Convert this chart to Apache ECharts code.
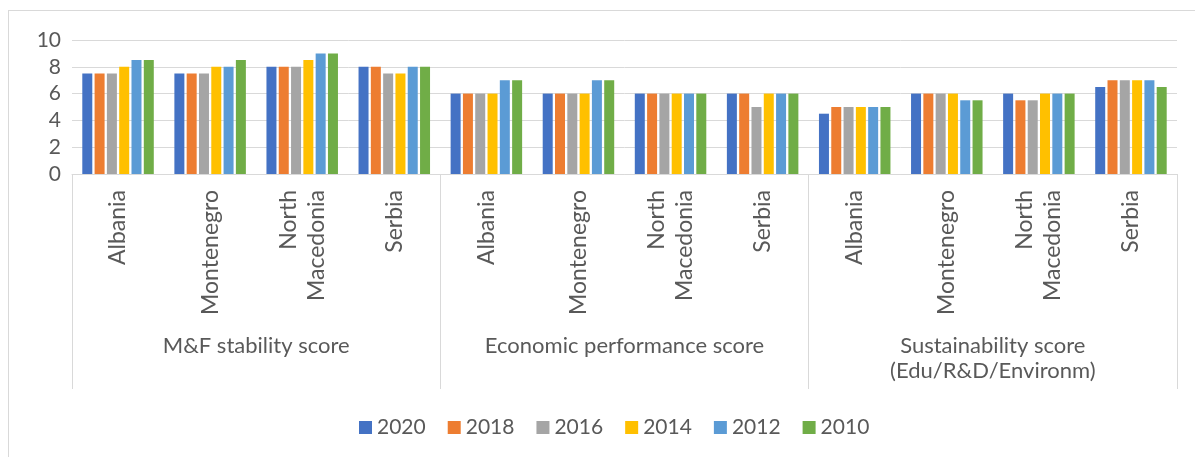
<!DOCTYPE html>
<html>
<head>
<meta charset="utf-8">
<script src="https://cdn.jsdelivr.net/npm/echarts@6/dist/echarts.min.js"></script>
<style>
  html, body { margin: 0; padding: 0; background: #fff; }
  #frame { position: absolute; left: 8px; top: 10px; width: 1200px; height: 460px;
           border-left: 1px solid #d9d9d9; border-top: 1px solid #d9d9d9; }
  #chart { position: absolute; left: 0; top: 0; width: 1195px; height: 457px; }
</style>
</head>
<body>
<div id="frame"></div>
<div id="chart"></div>
<script>
// categories
var countries = ['Albania', 'Montenegro', 'North\nMacedonia', 'Serbia',
                 'Albania', 'Montenegro', 'North\nMacedonia', 'Serbia',
                 'Albania', 'Montenegro', 'North\nMacedonia', 'Serbia'];
var groups = ['M&F stability score', 'Economic performance score', 'Sustainability score\n(Edu/R&D/Environm)'];
var years = ['2020', '2018', '2016', '2014', '2012', '2010'];
var colors = ['#4472c4', '#ed7d31', '#a5a5a5', '#ffc000', '#5b9bd5', '#70ad47'];

// values per year, in category order
var v2020 = [7.5, 7.5, 8, 8,   6, 6, 6, 6,   4.5, 6, 6, 6.5];
var v2018 = [7.5, 7.5, 8, 8,   6, 6, 6, 6,   5, 6, 5.5, 7];
var v2016 = [7.5, 7.5, 8, 7.5, 6, 6, 6, 5,   5, 6, 5.5, 7];
var v2014 = [8, 8, 8.5, 7.5,   6, 6, 6, 6,   5, 6, 6, 7];
var v2012 = [8.5, 8, 9, 8,     7, 7, 6, 6,   5, 5.5, 6, 7];
var v2010 = [8.5, 8.5, 9, 8,   7, 7, 6, 6,   5, 5.5, 6, 6.5];
var values = [v2020, v2018, v2016, v2014, v2012, v2010];

var yTicks = [0, 2, 4, 6, 8, 10];

var font = 'Lato, "Liberation Sans", sans-serif';
var txt = '#595959';
var line = '#d9d9d9';

var chart = echarts.init(document.getElementById('chart'));

var series = years.map(function (y, i) {
  return {
    name: y,
    type: 'bar',
    xAxisIndex: 0,
    data: values[i],
    barWidth: 10,
    barGap: '23%',
    itemStyle: { color: colors[i] }
  };
});

chart.setOption({
  animation: false,
  textStyle: { fontFamily: font },
  grid: { left: 72, right: 18, top: 40, bottom: 283 },
  legend: {
    data: years,
    top: 412,
    left: 354,
    icon: 'rect',
    itemWidth: 13,
    itemHeight: 13,
    itemGap: 22,
    textStyle: { color: txt, fontSize: 21, fontFamily: font }
  },
  xAxis: [
    {
      type: 'category',
      data: countries,
      position: 'bottom',
      axisLine: { show: true, lineStyle: { color: line } },
      axisTick: { show: false },
      axisLabel: {
        rotate: 90,
        interval: 0,
        margin: 16,
        color: txt,
        fontSize: 23,
        lineHeight: 28,
        fontFamily: font
      }
    },
    {
      type: 'category',
      data: groups,
      position: 'bottom',
      axisLine: { show: false },
      axisTick: { show: true, length: 215, lineStyle: { color: line } },
      axisLabel: {
        interval: 0,
        margin: 159,
        color: txt,
        fontSize: 22,
        lineHeight: 25,
        verticalAlign: 'top',
        fontFamily: font
      }
    }
  ],
  yAxis: {
    type: 'value',
    min: yTicks[0],
    max: yTicks[yTicks.length - 1],
    interval: 2,
    axisLine: { show: false },
    axisTick: { show: false },
    splitLine: { lineStyle: { color: line, width: 1 } },
    axisLabel: { color: txt, fontSize: 21, margin: 11, fontFamily: font }
  },
  series: series
});
</script>
</body>
</html>
